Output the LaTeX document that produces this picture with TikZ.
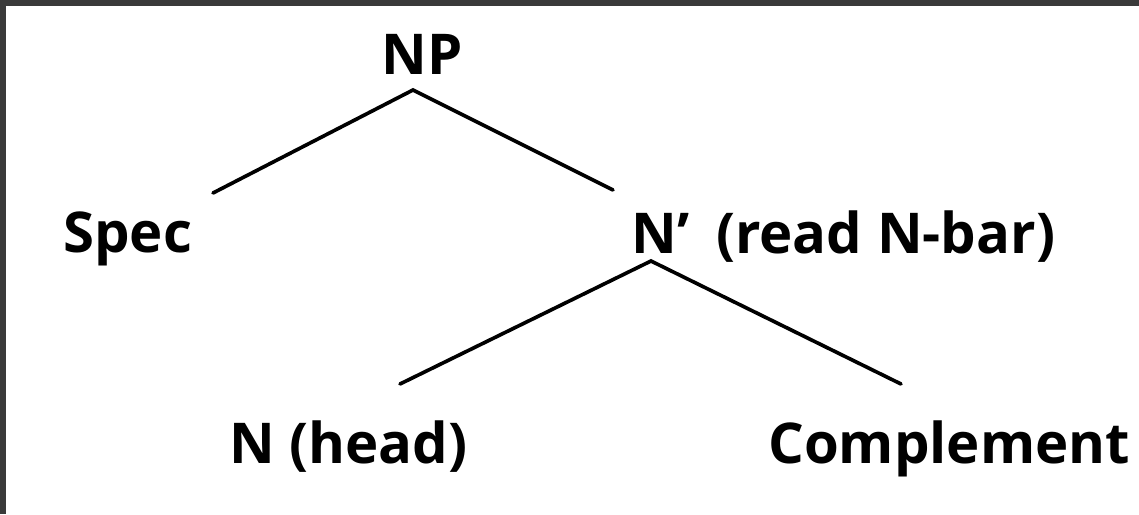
\documentclass[tikz,border=0pt]{standalone}
\usepackage{fontspec}
\setmainfont{Open Sans}
\usetikzlibrary{positioning}
\definecolor{frame}{HTML}{3A3A3A}

\begin{document}
\begin{tikzpicture}[x=0.025cm, y=-0.025cm,
    word/.style={font=\fontsize{40}{48}\selectfont\bfseries, inner sep=0pt, anchor=base west},
    branch/.style={line width=2.6pt, line cap=round}]

  \useasboundingbox (0,0) rectangle (1139,514);
  \fill[frame] (0,0) rectangle (1139,6);
  \fill[frame] (0,0) rectangle (6,514);

  % the phrase labels
  \node[word] (np)   at (381,74)  {NP};
  \node[word] (spec) at (63,252)  {Spec};
  \node[word] (nbar) at (631,253) {N’\hspace{0.22em} (read N-bar)};
  \node[word] (head) at (229,463) {N (head)};
  \node[word] (comp) at (768,463) {Complement};

  % where the branches meet and end
  \coordinate (np-root)   at (413,90);
  \coordinate (spec-top)  at (213,193);
  \coordinate (nbar-top)  at (613,190);
  \coordinate (nbar-root) at (651,261);
  \coordinate (head-top)  at (400,384);
  \coordinate (comp-top)  at (901,384);

  \draw[branch] (spec-top) -- (np-root) -- (nbar-top);
  \draw[branch] (head-top) -- (nbar-root) -- (comp-top);
\end{tikzpicture}
\end{document}
